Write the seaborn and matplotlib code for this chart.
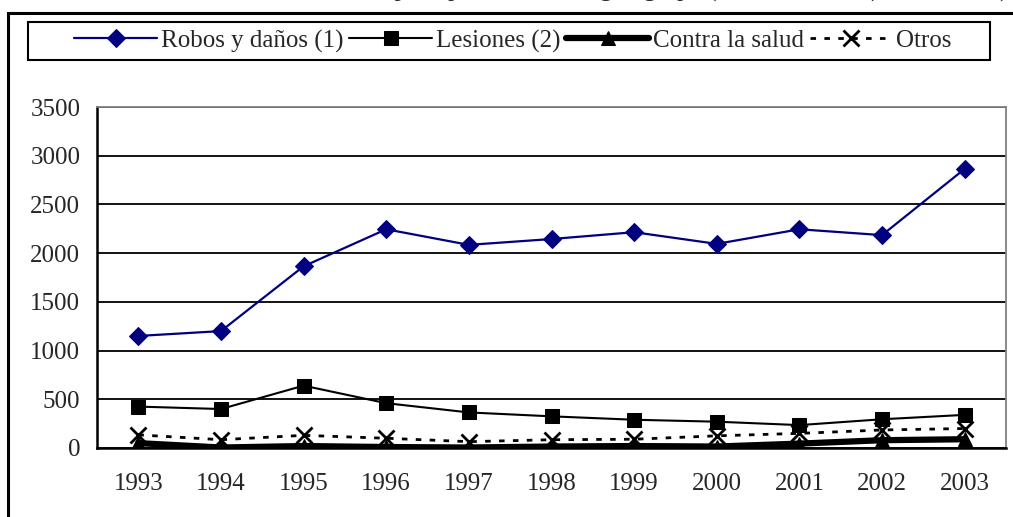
import matplotlib.pyplot as plt
import matplotlib.patches as mpatches
import numpy as np
import pandas as pd
import seaborn as sns

# Data
years = ['1993', '1994', '1995', '1996', '1997', '1998', '1999', '2000', '2001', '2002', '2003']
robos = [1150, 1200, 1865, 2245, 2085, 2145, 2215, 2095, 2245, 2185, 2865]
lesiones = [425, 400, 640, 460, 365, 325, 290, 270, 235, 295, 340]
salud = [50, 5, 20, 10, 5, 15, 20, 15, 45, 80, 90]
otros = [135, 85, 130, 100, 65, 85, 90, 125, 150, 185, 200]

df = pd.DataFrame({'Año': years, 'Robos y daños (1)': robos, 'Lesiones (2)': lesiones,
                   'Contra la salud': salud, 'Otros': otros})

sns.set_style('white')
plt.rcParams['font.family'] = ['Liberation Serif', 'DejaVu Serif']

W, H = 1013, 517
fig = plt.figure(figsize=(W/100, H/100), dpi=100)
ax = fig.add_axes([97/W, 1-448/H, (1006-97)/W, (448-107)/H])

# outer frame of the chart
fig.patches.append(mpatches.Rectangle((8/W, -0.1), 1.2, 1-13/H+0.1, transform=fig.transFigure,
                                      fill=False, edgecolor='black', linewidth=2.2, zorder=0))
# legend frame
fig.patches.append(mpatches.Rectangle((28/W, 1-60/H), (990-28)/W, 38/H, transform=fig.transFigure,
                                      fill=False, edgecolor='black', linewidth=1.5, zorder=0))

# partly cut-off title at the very top (as in the source image)
fig.text(1008/W, 1+3/H, 'Gráfico 2. Detenidos por tipo de delito, según grupo (cifras absolutas), 1993-2003)',
         ha='right', va='baseline', fontsize=18)

ax.set_axisbelow(True)
ax.yaxis.grid(True, color='black', linewidth=1.3)

sns.lineplot(data=df, x='Año', y='Robos y daños (1)', ax=ax, color='#000080', linewidth=1.6,
             marker='D', markersize=9, markeredgecolor='#000080', label='Robos y daños (1)', zorder=5)
sns.lineplot(data=df, x='Año', y='Lesiones (2)', ax=ax, color='black', linewidth=1.5,
             marker='s', markersize=10, markeredgecolor='black', label='Lesiones (2)', zorder=4)
sns.lineplot(data=df, x='Año', y='Contra la salud', ax=ax, color='black', linewidth=4.5,
             marker='^', markersize=10, markeredgecolor='black', label='Contra la salud', zorder=3)
sns.lineplot(data=df, x='Año', y='Otros', ax=ax, color='black', linewidth=2,
             linestyle=(0, (2, 3)), marker='x', markersize=11, markeredgewidth=2,
             markeredgecolor='black', label='Otros', zorder=3)

ax.set_xlim(-0.5, len(years) - 0.5)
ax.set_ylim(0, 3500)
ax.set_yticks(np.arange(0, 3501, 500))
ax.set_xticks(range(len(years)))
ax.set_xticklabels(years)
ax.set_xticks(np.arange(-0.5, len(years), 1), minor=True)
ax.tick_params(axis='x', which='major', length=0, pad=18, labelsize=18)
ax.tick_params(axis='x', which='minor', length=7, width=1.8, direction='out', color='black')
ax.tick_params(axis='y', length=7, width=1.8, direction='out', color='black', labelsize=18, pad=5)
ax.set_xlabel('')
ax.set_ylabel('')

for side in ['left', 'bottom']:
    ax.spines[side].set_color('black')
    ax.spines[side].set_linewidth(1.8)
for side in ['top', 'right']:
    ax.spines[side].set_color('#808080')
    ax.spines[side].set_linewidth(1.3)
    ax.spines[side].set_visible(True)

handles, labels = ax.get_legend_handles_labels()
ax.get_legend().remove()
fig.legend(handles, labels, loc='center', bbox_to_anchor=(513/W, 1-41/H), ncol=4,
           fontsize=18, frameon=False, handlelength=3.3, handletextpad=0.15,
           columnspacing=0.25, borderpad=0.2)

fig.savefig('out.png', dpi=100, facecolor='white')
